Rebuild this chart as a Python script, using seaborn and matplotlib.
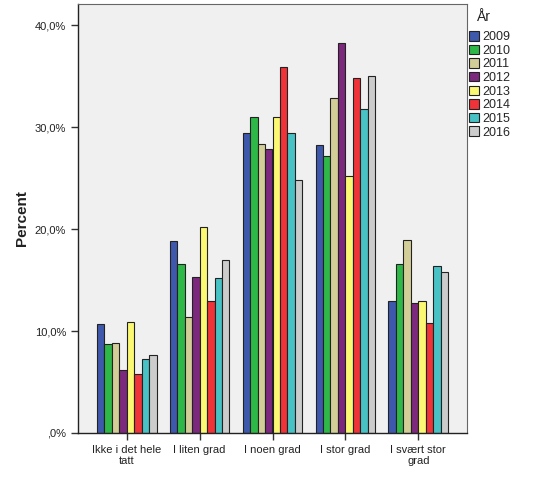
import numpy as np
import pandas as pd
import seaborn as sns
import matplotlib.pyplot as plt
from matplotlib.ticker import FuncFormatter
from matplotlib.patches import Patch

sns.set_style("white")
plt.rcParams['font.family'] = ['Liberation Sans', 'DejaVu Sans']

# data (percent)
categories = ['Ikke i det hele\ntatt', 'I liten grad', 'I noen grad', 'I stor grad', 'I svært stor\ngrad']
years = ['2009', '2010', '2011', '2012', '2013', '2014', '2015', '2016']
pct_2009 = [10.7, 18.8, 29.4, 28.2, 12.9]
pct_2010 = [8.7, 16.6, 31.0, 27.2, 16.6]
pct_2011 = [8.8, 11.4, 28.3, 32.8, 18.9]
pct_2012 = [6.2, 15.3, 27.8, 38.2, 12.7]
pct_2013 = [10.9, 20.2, 31.0, 25.2, 12.9]
pct_2014 = [5.8, 12.9, 35.9, 34.8, 10.8]
pct_2015 = [7.3, 15.2, 29.4, 31.8, 16.4]
pct_2016 = [7.6, 17.0, 24.8, 35.0, 15.8]
colors = ['#3E58AC', '#2EB848', '#D3CE97', '#7C287D', '#FBF873', '#EF3338', '#48C2C5', '#CCCCCC']

series = [pct_2009, pct_2010, pct_2011, pct_2012, pct_2013, pct_2014, pct_2015, pct_2016]
rows = []
for yr, vals in zip(years, series):
    for cat, v in zip(categories, vals):
        rows.append({'cat': cat, 'year': yr, 'pct': v})
df = pd.DataFrame(rows)

fig = plt.figure(figsize=(5.43, 4.87), dpi=100)
ax = fig.add_axes([78 / 543, 1 - 433 / 487, (467 - 78) / 543, (433 - 4) / 487])
ax.set_facecolor('#F0F0F0')

sns.barplot(data=df, x='cat', y='pct', hue='year', order=categories, hue_order=years,
            palette=colors, width=0.82, gap=0, edgecolor='#222222', linewidth=0.8,
            saturation=1, ax=ax, legend=False)

ax.set_xlim(-0.667, 4.667)
ax.set_ylim(0, 42.06)
ax.set_yticks([0, 10, 20, 30, 40])
ax.yaxis.set_major_formatter(FuncFormatter(lambda v, p: ',0%' if v == 0 else f'{v:.1f}%'.replace('.', ',')))
ax.tick_params(axis='both', direction='out', length=5, width=1, color='#333333',
               labelsize=8, labelcolor='#222222', left=True, bottom=True)
ax.set_xlabel('')
ax.set_ylabel('Percent', fontsize=11, fontweight='bold', color='#222222', labelpad=4)

for s in ['top', 'right']:
    ax.spines[s].set_color('#666666')
    ax.spines[s].set_linewidth(0.8)
for s in ['left', 'bottom']:
    ax.spines[s].set_color('#222222')
    ax.spines[s].set_linewidth(1)

handles = [Patch(facecolor=c, edgecolor='#222222', linewidth=0.8) for c in colors]
fig.text(477 / 543, 1 - 17 / 487, 'År', fontsize=10, color='#222222', va='center', ha='left')
fig.legend(handles, years, loc='upper left', bbox_to_anchor=(469 / 543, 1 - 31 / 487),
           frameon=False, fontsize=9, handlelength=0.8, handleheight=0.8,
           handletextpad=0.25, labelspacing=0.12, borderaxespad=0, borderpad=0)

fig.savefig('out.png', dpi=100)
